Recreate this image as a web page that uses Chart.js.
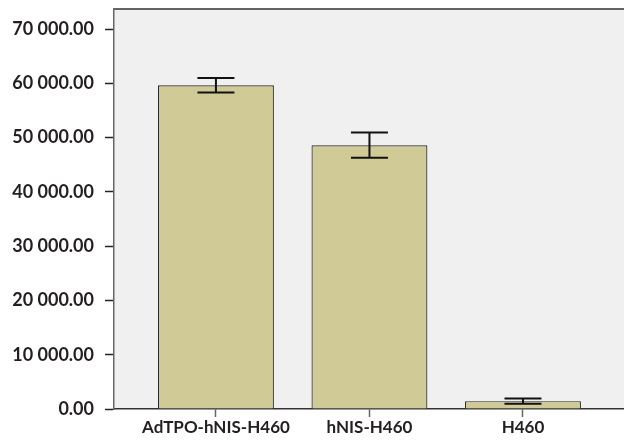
<!DOCTYPE html>
<html>
<head>
<meta charset="utf-8">
<script src="https://cdn.jsdelivr.net/npm/chart.js@4/dist/chart.umd.min.js"></script>
<style>
  html, body { margin: 0; padding: 0; background: #ffffff; }
  #wrap { width: 624px; height: 440px; }
</style>
</head>
<body>
<div id="wrap"><canvas id="barChart"></canvas></div>
<script>
const groups = ['AdTPO-hNIS-H460', 'hNIS-H460', 'H460'];
const means = [59650, 48600, 1450];
const errors = [1330, 2330, 480];
const yTicks = [0, 10000, 20000, 30000, 40000, 50000, 60000, 70000];

function fmt(v) {
    return Math.round(v).toString().replace(/\B(?=(\d{3})+(?!\d))/g, ' ') + '.00';
}

// plot background and top frame line
const framePlugin = {
    id: 'frame',
    beforeDraw(chart) {
        const { ctx, chartArea: a } = chart;
        ctx.save();
        ctx.fillStyle = '#f0f0f0';
        ctx.fillRect(a.left, a.top, a.right - a.left, a.bottom - a.top);
        ctx.strokeStyle = '#333333';
        ctx.lineWidth = 1.5;
        ctx.beginPath();
        ctx.moveTo(a.left, a.top);
        ctx.lineTo(a.right, a.top);
        ctx.stroke();
        ctx.restore();
    }
};

// error bars drawn from the means/errors arrays
const errorBarPlugin = {
    id: 'errorBars',
    afterDatasetsDraw(chart) {
        const { ctx } = chart;
        const y = chart.scales.y;
        const meta = chart.getDatasetMeta(0);
        ctx.save();
        ctx.strokeStyle = '#111111';
        ctx.lineWidth = 2;
        meta.data.forEach((bar, i) => {
            const top = y.getPixelForValue(means[i] + errors[i]);
            const bottom = y.getPixelForValue(means[i] - errors[i]);
            const half = 18.5;
            ctx.beginPath();
            ctx.moveTo(bar.x, top);
            ctx.lineTo(bar.x, bottom);
            ctx.moveTo(bar.x - half, top);
            ctx.lineTo(bar.x + half, top);
            ctx.moveTo(bar.x - half, bottom);
            ctx.lineTo(bar.x + half, bottom);
            ctx.stroke();
        });
        ctx.restore();
    }
};

const ctx = document.getElementById('barChart').getContext('2d');
new Chart(ctx, {
    type: 'bar',
    data: {
        datasets: [{
            data: means.map((m, i) => ({ x: i, y: m })),
            backgroundColor: '#cfca96',
            borderColor: '#2a2a2a',
            borderWidth: 1.2,
            borderSkipped: 'bottom',
            barPercentage: 0.755,
            categoryPercentage: 1
        }]
    },
    options: {
        responsive: true,
        maintainAspectRatio: false,
        animation: false,
        layout: { padding: { top: 9, right: 0, left: 0, bottom: 0 } },
        plugins: {
            legend: { display: false },
            tooltip: { enabled: false }
        },
        scales: {
            x: {
                type: 'linear',
                bounds: 'data',
                offset: false,
                min: -0.664,
                max: 2.658,
                afterBuildTicks: scale => {
                    scale.ticks = groups.map((g, i) => ({ value: i }));
                },
                afterFit: scale => {
                    scale.height = 31;
                    scale.paddingLeft = 0;
                    scale.paddingRight = 0;
                },
                grid: {
                    offset: false,
                    drawOnChartArea: false,
                    drawTicks: true,
                    tickLength: 8,
                    tickColor: '#666666',
                    tickWidth: 1.5
                },
                border: { color: '#333333', width: 1.5 },
                ticks: {
                    padding: 0,
                    autoSkip: false,
                    maxRotation: 0,
                    color: '#231f20',
                    font: { family: 'Lato', size: 17, weight: 'bold' },
                    callback: v => groups[v]
                }
            },
            y: {
                min: 0,
                max: 73700,
                afterBuildTicks: scale => {
                    scale.ticks = yTicks.map(v => ({ value: v }));
                },
                afterFit: scale => {
                    scale.width = 114;
                    scale.paddingTop = 0;
                    scale.paddingBottom = 0;
                },
                grid: {
                    drawOnChartArea: false,
                    drawTicks: true,
                    tickLength: 9,
                    tickColor: '#222222',
                    tickWidth: 1.5
                },
                border: { color: '#666666', width: 1.5 },
                ticks: {
                    padding: 11,
                    color: '#231f20',
                    font: { family: 'Lato', size: 18, weight: 'bold' },
                    callback: v => fmt(v)
                }
            }
        }
    },
    plugins: [framePlugin, errorBarPlugin]
});
</script>
</body>
</html>
